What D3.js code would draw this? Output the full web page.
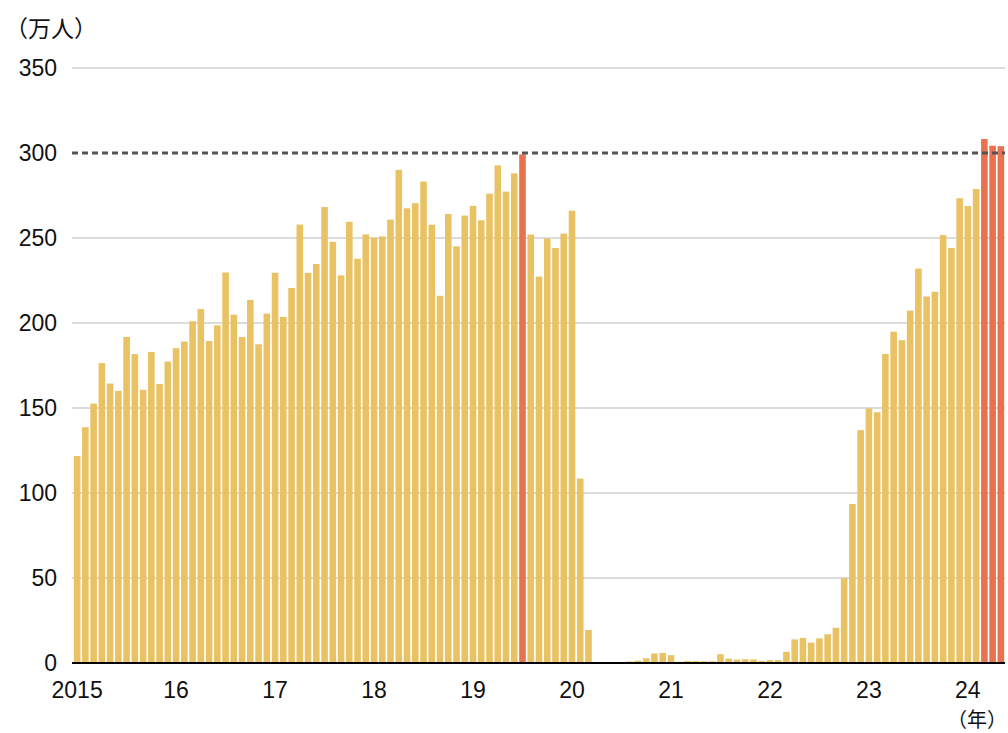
<!DOCTYPE html>
<html>
<head>
<meta charset="utf-8">
<script src="https://cdn.jsdelivr.net/npm/d3@7"></script>
<style>
  body { margin: 0; background: #fff; }
  text { font-family: "Liberation Sans", Arial, sans-serif; fill: #111; }
  .jp { font-family: "Noto Sans CJK JP", sans-serif; }
</style>
</head>
<body>
<div id="chart"></div>
<script>

// monthly visitors, 万人
var years = [2015, 2016, 2017, 2018, 2019, 2020, 2021, 2022, 2023, 2024];
var v2015 = [121.8, 138.7, 152.6, 176.4, 164.4, 160.1, 191.8, 181.7, 160.7, 183.0, 164.1, 177.3];
var v2016 = [185.2, 189.1, 201.0, 208.2, 189.4, 198.6, 229.7, 204.9, 191.8, 213.6, 187.5, 205.5];
var v2017 = [229.6, 203.6, 220.6, 257.9, 229.5, 234.7, 268.2, 247.8, 228.0, 259.5, 237.8, 252.1];
var v2018 = [250.2, 250.9, 260.8, 290.1, 267.5, 270.5, 283.2, 257.8, 216.0, 264.1, 245.1, 263.2];
var v2019 = [268.9, 260.4, 276.1, 292.7, 277.3, 288.0, 299.2, 252.0, 227.3, 249.7, 244.1, 252.6];
var v2020 = [266.1, 108.5, 19.4, 0.3, 0.2, 0.3, 0.4, 0.9, 1.4, 2.8, 5.6, 5.9];
var v2021 = [4.6, 0.7, 1.2, 1.1, 1.0, 1.0, 5.2, 2.6, 2.0, 2.2, 2.1, 1.2];
var v2022 = [1.7, 1.7, 6.6, 13.9, 14.7, 12.0, 14.5, 16.9, 20.7, 49.9, 93.5, 137.0];
var v2023 = [149.7, 147.5, 181.8, 194.9, 189.9, 207.3, 232.0, 215.6, 218.4, 251.7, 244.1, 273.4];
var v2024 = [268.8, 278.8, 308.2, 304.3, 304.0];
var yearValues = [v2015, v2016, v2017, v2018, v2019, v2020, v2021, v2022, v2023, v2024];

var recordMonths = ['2019-07', '2024-03', '2024-04', '2024-05'];
var yearLabels = ['2015', '16', '17', '18', '19', '20', '21', '22', '23', '24'];
var yTicks = [0, 50, 100, 150, 200, 250, 300, 350];
var refValue = 300;

var yellow = '#e9c264';
var red = '#e8714f';

// flatten into month rows
var data = [];
years.forEach(function(yr, i){
  yearValues[i].forEach(function(v, m){
    var key = yr + '-' + (m < 9 ? '0' : '') + (m + 1);
    data.push({ key: key, year: yr, month: m + 1, value: v });
  });
});

var W = 1008, H = 733;
var plotLeft = 72, plotRight = 1005, plotTop = 68, plotBottom = 663;

var svg = d3.select('#chart').append('svg')
  .attr('width', W)
  .attr('height', H);

var x = d3.scaleBand()
  .domain(data.map(function(d){ return d.key; }))
  .range([plotLeft + 1, plotRight])
  .paddingInner(0.2)
  .paddingOuter(0.1);

var y = d3.scaleLinear().domain([0, 350]).range([plotBottom, plotTop]);

// gridlines (not 300, that one is dashed)
svg.append('g')
  .selectAll('line')
  .data(yTicks.filter(function(t){ return t !== refValue && t !== 0; }))
  .enter().append('line')
  .attr('x1', plotLeft).attr('x2', plotRight)
  .attr('y1', function(d){ return y(d); })
  .attr('y2', function(d){ return y(d); })
  .style('stroke', '#d0d0d0')
  .style('stroke-width', 1.5);

// y labels
svg.append('g')
  .selectAll('text')
  .data(yTicks)
  .enter().append('text')
  .attr('x', 57)
  .attr('y', function(d){ return y(d); })
  .attr('dy', '0.36em')
  .attr('text-anchor', 'end')
  .style('font-size', '23px')
  .text(function(d){ return d; });

// bars
svg.append('g')
  .selectAll('rect')
  .data(data)
  .enter().append('rect')
  .attr('x', function(d){ return x(d.key); })
  .attr('width', x.bandwidth())
  .attr('y', function(d){ return y(d.value); })
  .attr('height', function(d){ return plotBottom - y(d.value); })
  .style('fill', function(d){
    return recordMonths.indexOf(d.key) >= 0 ? red : yellow;
  });

// 300 reference line
svg.append('line')
  .attr('x1', plotLeft).attr('x2', plotRight)
  .attr('y1', y(refValue)).attr('y2', y(refValue))
  .style('stroke', '#555')
  .style('stroke-width', 3)
  .style('stroke-dasharray', '6,4');

// baseline
svg.append('line')
  .attr('x1', plotLeft).attr('x2', plotRight)
  .attr('y1', plotBottom).attr('y2', plotBottom)
  .style('stroke', '#000')
  .style('stroke-width', 2);

// x labels at each January
svg.append('g')
  .selectAll('text')
  .data(years)
  .enter().append('text')
  .attr('x', function(yr){ return x(yr + '-01') + x.bandwidth() / 2; })
  .attr('y', 698)
  .attr('text-anchor', 'middle')
  .style('font-size', '23px')
  .text(function(yr, i){ return yearLabels[i]; });

// units
svg.append('text')
  .attr('class', 'jp')
  .attr('x', 5)
  .attr('y', 37)
  .style('font-size', '23px')
  .text('（万人）');

svg.append('text')
  .attr('class', 'jp')
  .attr('x', 1007)
  .attr('y', 727)
  .attr('text-anchor', 'end')
  .style('font-size', '20px')
  .text('（年）');

</script>
</body>
</html>
